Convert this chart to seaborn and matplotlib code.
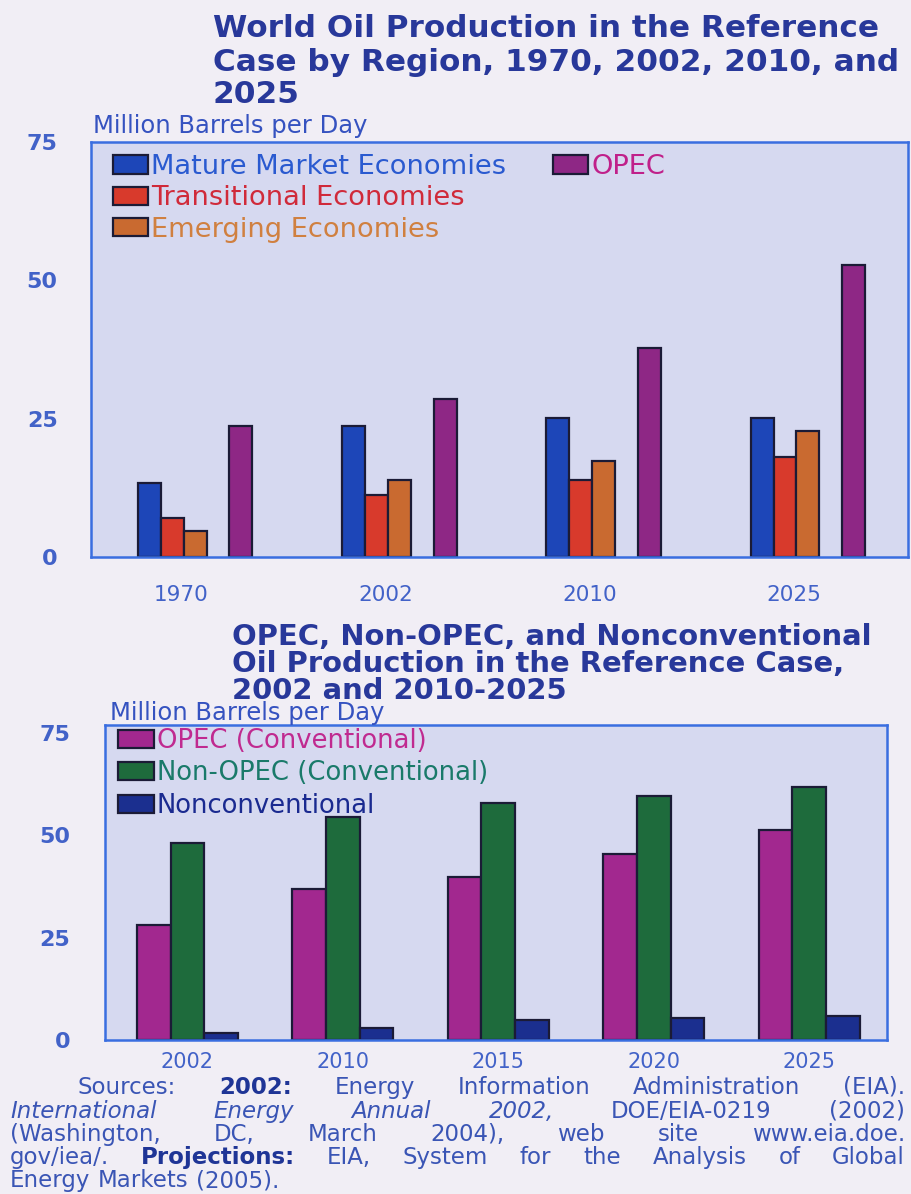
import matplotlib
matplotlib.use("Agg")
import matplotlib.pyplot as plt
import matplotlib.transforms as mtransforms
import numpy as np
import pandas as pd
import seaborn as sns
from matplotlib.patches import Patch

# ---- data: million barrels per day ----
region_years = ["1970", "2002", "2010", "2025"]
mature_market = [13.4, 23.6, 25.1, 25.1]
transitional = [7.1, 11.2, 13.9, 18.0]
emerging = [4.7, 14.0, 17.4, 22.7]
opec_total = [23.6, 28.5, 37.8, 52.7]
region_names = ["Mature Market Economies", "Transitional Economies",
                "Emerging Economies", "OPEC"]

supply_years = ["2002", "2010", "2015", "2020", "2025"]
opec_conventional = [28.1, 36.8, 39.9, 45.5, 51.3]
non_opec_conventional = [48.2, 54.6, 57.9, 59.7, 61.8]
nonconventional = [1.6, 2.9, 4.9, 5.5, 5.9]
supply_names = ["OPEC (Conventional)", "Non-OPEC (Conventional)", "Nonconventional"]

ytick_values = [0, 25, 50, 75]

# ---- styling ----
sns.set_style("white")
plt.rcParams["font.family"] = ["DejaVu Sans"]

PAGE = "#f1eef5"
PANEL = "#d6d9f0"
FRAME = "#3a6ee0"
EDGE = "#1b1b36"
TITLE_C = "#28389a"
AXIS_TXT = "#4262c8"

region_fill = {"Mature Market Economies": "#1d46b8", "Transitional Economies": "#d83a2c",
               "Emerging Economies": "#c96a30", " ": "none", "OPEC": "#8e2785"}
region_text = {"Mature Market Economies": "#2a5ad0", "Transitional Economies": "#d02a3a",
               "Emerging Economies": "#d08040", "OPEC": "#c0208a"}
supply_fill = {"OPEC (Conventional)": "#a2288f", "Non-OPEC (Conventional)": "#1e6b3c",
               "Nonconventional": "#1b2f8f"}
supply_text = {"OPEC (Conventional)": "#c02a90", "Non-OPEC (Conventional)": "#1a7a6a",
               "Nonconventional": "#1a2a90"}

W, H = 912, 1194


def fx(px):
    return px / W


def fy(py):
    return 1 - py / H


fig = plt.figure(figsize=(W / 100, H / 100), dpi=100, facecolor=PAGE)
renderer = fig.canvas.get_renderer()


def fit_size(text, width_px, **kw):
    t = fig.text(0, 0, text, fontsize=20, **kw)
    w = t.get_window_extent(renderer).width
    t.remove()
    return 20 * width_px / w


def style_axes(ax, ymax):
    ax.set_facecolor(PANEL)
    for sp in ax.spines.values():
        sp.set_visible(True)
        sp.set_color(FRAME)
        sp.set_linewidth(1.8)
    ax.set_ylim(0, ymax)
    ax.set_yticks(ytick_values)
    ax.set_yticklabels([str(v) for v in ytick_values])
    ax.set_xlabel("")
    ax.set_ylabel("")
    ax.grid(False)


# ================= regional chart =================
ax1 = fig.add_axes([fx(91), fy(557), fx(908) - fx(91), (557 - 142) / H])
df_region = pd.concat(
    [pd.DataFrame({"year": region_years, "value": vals, "region": name})
     for name, vals in zip(region_names, [mature_market, transitional, emerging, opec_total])],
    ignore_index=True)
# an empty slot separates OPEC from the other three regions in each group
hue_order1 = ["Mature Market Economies", "Transitional Economies",
              "Emerging Economies", " ", "OPEC"]
sns.barplot(data=df_region, x="year", y="value", hue="region", order=region_years,
            hue_order=hue_order1, palette=region_fill, width=0.56, gap=0,
            saturation=1, errorbar=None, edgecolor=EDGE, linewidth=1.6,
            legend=False, ax=ax1)
style_axes(ax1, 75)
ax1.set_xlim(-0.51, 3.49)
ax1.tick_params(axis="y", length=6, width=1.2, color=FRAME, pad=18,
                labelsize=16, labelcolor=AXIS_TXT)
ax1.tick_params(axis="x", length=0, pad=20, labelsize=15.5, labelcolor=AXIS_TXT)
for lab in ax1.get_yticklabels():
    lab.set_fontweight("bold")
shift = mtransforms.ScaledTranslation(-14 / 100, 0, fig.dpi_scale_trans)
for lab in ax1.get_xticklabels():
    lab.set_transform(lab.get_transform() + shift)

leg_fs = fit_size("Mature Market Economies", 355)
h_left = [Patch(facecolor=region_fill[n], edgecolor=EDGE, linewidth=1.6)
          for n in region_names[:3]]
leg1 = ax1.legend(h_left, region_names[:3], loc="upper left",
                  bbox_to_anchor=((113 - 91) / 817, 1 - (154 - 142) / 415),
                  frameon=False, fontsize=leg_fs, handlelength=1.3, handleheight=0.65,
                  handletextpad=0.1, labelspacing=0.2, borderpad=0, borderaxespad=0,
                  labelcolor=[region_text[n] for n in region_names[:3]])
ax1.add_artist(leg1)
ax1.legend([Patch(facecolor=region_fill["OPEC"], edgecolor=EDGE, linewidth=1.6)], ["OPEC"],
           loc="upper left", bbox_to_anchor=((553 - 91) / 817, 1 - (154 - 142) / 415),
           frameon=False, fontsize=leg_fs, handlelength=1.3, handleheight=0.65,
           handletextpad=0.1, borderpad=0, borderaxespad=0,
           labelcolor=[region_text["OPEC"]])

# ================= supply-type chart =================
ax2 = fig.add_axes([fx(105), fy(1040), fx(887) - fx(105), (1040 - 725) / H])
df_supply = pd.concat(
    [pd.DataFrame({"year": supply_years, "value": vals, "source": name})
     for name, vals in zip(supply_names, [opec_conventional, non_opec_conventional, nonconventional])],
    ignore_index=True)
sns.barplot(data=df_supply, x="year", y="value", hue="source", order=supply_years,
            hue_order=supply_names, palette=supply_fill, width=0.65, gap=0,
            saturation=1, errorbar=None, edgecolor=EDGE, linewidth=1.6,
            legend=False, ax=ax2)
style_axes(ax2, 77)
ax2.set_xlim(-0.53, 4.5)
ax2.tick_params(axis="y", length=5, width=1.2, color=FRAME, pad=20,
                labelsize=16, labelcolor=AXIS_TXT)
ax2.tick_params(axis="x", length=5, width=1.2, color=FRAME, pad=4,
                labelsize=15, labelcolor=AXIS_TXT)
for lab in ax2.get_yticklabels():
    lab.set_fontweight("bold")

leg2_fs = fit_size("Non-OPEC (Conventional)", 330)
ax2.legend([Patch(facecolor=supply_fill[n], edgecolor=EDGE, linewidth=1.6) for n in supply_names],
           supply_names, loc="upper left",
           bbox_to_anchor=((118 - 105) / 782, 1 - (728 - 725) / 315),
           frameon=False, fontsize=leg2_fs, handlelength=1.4, handleheight=0.7,
           handletextpad=0.1, labelspacing=0.25, borderpad=0, borderaxespad=0,
           labelcolor=[supply_text[n] for n in supply_names])

# ================= titles and unit labels =================
title1 = ["World Oil Production in the Reference",
          "Case by Region, 1970, 2002, 2010, and",
          "2025"]
t1_fs = fit_size(title1[0], 665, fontweight="bold")
for line, y in zip(title1, [37, 71, 103]):
    fig.text(fx(213), fy(y), line, fontsize=t1_fs, fontweight="bold",
             color=TITLE_C, va="baseline", ha="left")

title2 = ["OPEC, Non-OPEC, and Nonconventional",
          "Oil Production in the Reference Case,",
          "2002 and 2010-2025"]
t2_fs = fit_size(title2[0], 640, fontweight="bold")
for line, y in zip(title2, [645, 672, 699]):
    fig.text(fx(232), fy(y), line, fontsize=t2_fs, fontweight="bold",
             color=TITLE_C, va="baseline", ha="left")

unit_fs = fit_size("Million Barrels per Day", 275)
fig.text(fx(93), fy(126), "Million Barrels per Day", fontsize=unit_fs,
         color="#3552c0", va="center", ha="left")
fig.text(fx(110), fy(713), "Million Barrels per Day", fontsize=unit_fs,
         color="#3552c0", va="center", ha="left")

# ================= source note (justified) =================
SRC = "#3a55b5"
SRC_B = "#1f3596"
src_fs = 16.5
N, B, I = ("normal", "normal"), ("bold", "normal"), ("normal", "italic")
source_lines = [
    (78, True, [("Sources:", N), ("2002:", B), ("Energy", N), ("Information", N),
                ("Administration", N), ("(EIA).", N)]),
    (10, True, [("International", I), ("Energy", I), ("Annual", I), ("2002,", I),
                ("DOE/EIA-0219", N), ("(2002)", N)]),
    (10, True, [("(Washington,", N), ("DC,", N), ("March", N), ("2004),", N),
                ("web", N), ("site", N), ("www.eia.doe.", N)]),
    (10, True, [("gov/iea/.", N), ("Projections:", B), ("EIA,", N), ("System", N),
                ("for", N), ("the", N), ("Analysis", N), ("of", N), ("Global", N)]),
    (10, False, [("Energy", N), ("Markets", N), ("(2005).", N)]),
]
baselines = [1094, 1118, 1141, 1164, 1187]
right_edge = 905
for (x0, justify, words), y in zip(source_lines, baselines):
    arts = []
    for s, (wt, st) in words:
        arts.append(fig.text(fx(x0), fy(y), s, fontsize=src_fs, fontweight=wt, fontstyle=st,
                             color=SRC_B if wt == "bold" else SRC, va="baseline", ha="left"))
    widths = [a.get_window_extent(renderer).width for a in arts]
    if justify:
        gap = (right_edge - x0 - sum(widths)) / (len(arts) - 1)
    else:
        gap = src_fs * 100 / 72 * 0.32
    x = x0
    for a, w in zip(arts, widths):
        a.set_x(fx(x))
        x += w + gap

fig.savefig("out.png", dpi=100, facecolor=PAGE)
